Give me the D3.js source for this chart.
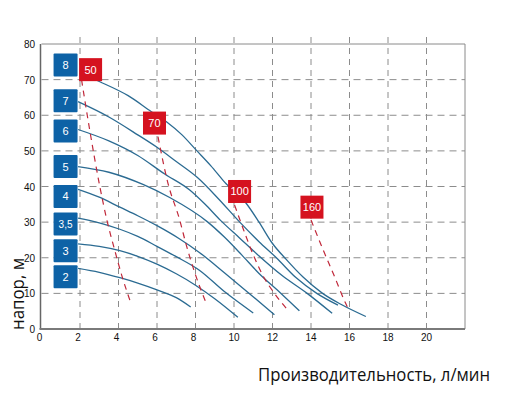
<!DOCTYPE html>
<html>
<head>
  <meta charset="utf-8">
  <script src="https://d3js.org/d3.v7.min.js"></script>
  <style>
    body { margin: 0; background: #fff; }
    .tick-label { font-family: "Liberation Sans", Arial, sans-serif; font-size: 10px; fill: #111; }
    .box-label { font-family: "Liberation Sans", Arial, sans-serif; font-size: 11px; fill: #fff; text-anchor: middle; }
    .axis-title { font-family: "Open Sans", "Noto Sans", sans-serif; fill: #111; }
  </style>
</head>
<body>
  <svg class="chart" width="525" height="393"></svg>
  <script>
    // Pump curves: [flow l/min, head m]
    const PUMPS = ["2", "3", "3,5", "4", "5", "6", "7", "8"];
    const CURVE_2   = [[1.9,17.0],[3.0,15.9],[4.07,14.4],[5.0,12.9],[6.0,11.0],[7.0,8.8],[7.75,6.2]];
    const CURVE_3   = [[1.9,23.9],[3.0,23.2],[4.07,22.0],[5.0,20.4],[6.0,18.2],[7.0,15.5],[8.0,12.3],[9.0,8.5],[10.2,3.3]];
    const CURVE_3_5 = [[1.9,31.1],[3.0,29.8],[4.07,28.0],[5.0,26.0],[6.0,23.2],[7.0,20.3],[8.2,16.5],[9.5,10.5],[11.0,4.5]];
    const CURVE_4   = [[1.9,39.2],[3.0,37.0],[4.07,34.2],[5.0,31.8],[6.0,29.0],[7.2,25.2],[8.2,21.5],[9.5,15.8],[10.9,9.5],[12.1,4.0]];
    const CURVE_5   = [[1.9,45.6],[3.5,44.0],[5.3,40.5],[6.66,36.9],[8.64,30.0],[9.5,25.8],[10.4,20.8],[11.3,15.6],[12.4,10.2],[13.4,5.1]];
    const CURVE_6   = [[1.9,56.0],[3.5,52.8],[5.0,48.7],[6.4,43.5],[7.7,39.0],[8.5,35.0],[9.3,30.5],[10.3,25.5],[11.2,21.0],[12.5,15.0],[13.8,10.0],[15.1,4.4]];
    const CURVE_7   = [[1.9,63.8],[3.5,59.5],[5.0,54.5],[6.0,51.0],[7.0,47.0],[8.1,42.5],[9.2,36.5],[10.3,30.0],[11.3,24.5],[12.2,20.0],[13.2,14.5],[14.3,10.0],[15.4,6.7]];
    const CURVE_8   = [[2.0,71.8],[3.03,69.4],[4.5,65.5],[5.71,61.0],[6.49,58.2],[7.3,54.5],[8.04,50.2],[8.8,45.8],[9.5,41.3],[10.63,35.3],[11.3,30.0],[12.0,24.0],[12.7,19.6],[13.6,14.5],[14.6,10.0],[15.6,6.8],[16.85,3.5]];
    const PUMP_LABEL_Q = [1.25, 1.25, 1.25, 1.25, 1.25, 1.25, 1.25, 1.25];
    const PUMP_LABEL_H = [14.7, 22.0, 29.5, 37.2, 45.6, 55.6, 64.1, 74.1];

    // Dashed lines with their labels
    const EFF_NAMES = ["50", "70", "100", "160"];
    const EFF_50  = [[2.08,70],[2.5,56],[3.03,40],[3.4,30.5],[3.8,22.2],[4.2,14.5],[4.59,8.1]];
    const EFF_70  = [[6.05,54],[6.57,40.9],[7.18,30.6],[7.52,23.6],[8.0,15.2],[8.56,7.2]];
    const EFF_100 = [[10.03,34.8],[10.5,27.8],[10.97,21.2],[11.5,15.0],[12.1,10.0],[12.85,5.0]];
    const EFF_160 = [[14.0,30.6],[14.6,22.6],[15.2,15.0],[15.8,7.2],[16.0,5.0]];
    const EFF_LABEL_Q = [2.55, 5.87, 10.29, 14.05];
    const EFF_LABEL_H = [72.8, 57.8, 38.6, 34.2];

    const X_TICKS = [0, 2, 4, 6, 8, 10, 12, 14, 16, 18, 20];
    const Y_TICKS = [0, 10, 20, 30, 40, 50, 60, 70, 80];
    const X_LABEL = "Производительность, л/мин";
    const Y_LABEL = "напор, м";

    const COLOR_CURVE = "#2b6b92";
    const COLOR_BLUE  = "#0d62a6";
    const COLOR_RED   = "#d5121f";
    const COLOR_DASH  = "#c0283a";
    const COLOR_GRID  = "#8c8c8c";

    const curves = [CURVE_2, CURVE_3, CURVE_3_5, CURVE_4, CURVE_5, CURVE_6, CURVE_7, CURVE_8];
    const effLines = [EFF_50, EFF_70, EFF_100, EFF_160];

    const svg = d3.select(".chart");
    const xScale = d3.scaleLinear().domain([0, 22]).range([41.5, 465]);
    const yScale = d3.scaleLinear().domain([0, 80]).range([329, 44]);

    // grid
    svg.append("g").selectAll("line").data(X_TICKS.filter(d => d > 0)).enter().append("line")
      .attr("x1", d => xScale(d)).attr("x2", d => xScale(d))
      .attr("y1", yScale(0)).attr("y2", yScale(82))
      .attr("stroke", COLOR_GRID).attr("stroke-width", 1).attr("stroke-dasharray", "6,5");
    svg.append("g").selectAll("line").data(Y_TICKS.filter(d => d > 0 && d < 80)).enter().append("line")
      .attr("x1", xScale(0)).attr("x2", xScale(22))
      .attr("y1", d => yScale(d)).attr("y2", d => yScale(d))
      .attr("stroke", COLOR_GRID).attr("stroke-width", 1).attr("stroke-dasharray", "7,5");

    // frame
    svg.append("line").attr("x1", xScale(0)).attr("x2", xScale(22)).attr("y1", yScale(80)).attr("y2", yScale(80))
      .attr("stroke", "#8a8a8a");
    svg.append("line").attr("x1", xScale(22)).attr("x2", xScale(22)).attr("y1", yScale(80)).attr("y2", yScale(0))
      .attr("stroke", "#8a8a8a");
    svg.append("line").attr("x1", xScale(0) - 1).attr("x2", xScale(0) - 1).attr("y1", yScale(80)).attr("y2", yScale(0))
      .attr("stroke", "#666").attr("stroke-width", 1.5);
    svg.append("line").attr("x1", xScale(0) - 2).attr("x2", xScale(22)).attr("y1", yScale(0)).attr("y2", yScale(0))
      .attr("stroke", "#7a7a7a").attr("stroke-width", 2);

    // tick labels
    svg.append("g").selectAll("text").data(Y_TICKS).enter().append("text")
      .attr("class", "tick-label")
      .attr("x", 35).attr("y", d => yScale(d) + 4)
      .attr("text-anchor", "end")
      .text(d => d);
    svg.append("g").selectAll("text").data(X_TICKS).enter().append("text")
      .attr("class", "tick-label")
      .attr("x", d => xScale(d) + (d < 10 ? -2 : 0)).attr("y", 341)
      .attr("text-anchor", "middle")
      .text(d => d);

    // axis titles
    svg.append("text").attr("class", "axis-title")
      .attr("x", 258).attr("y", 381)
      .style("font-size", "18px")
      .attr("textLength", 232).attr("lengthAdjust", "spacingAndGlyphs")
      .text(X_LABEL);
    svg.append("text").attr("class", "axis-title")
      .attr("transform", "translate(24,294) rotate(-90)")
      .attr("text-anchor", "middle")
      .style("font-size", "19px")
      .attr("textLength", 72).attr("lengthAdjust", "spacingAndGlyphs")
      .text(Y_LABEL);

    const line = d3.line()
      .x(d => xScale(d[0])).y(d => yScale(d[1]))
      .curve(d3.curveMonotoneX);

    // pump curves
    svg.append("g").selectAll("path").data(curves).enter().append("path")
      .attr("d", line)
      .attr("fill", "none").attr("stroke", COLOR_CURVE).attr("stroke-width", 1.3);

    // dashed lines
    svg.append("g").selectAll("path").data(effLines).enter().append("path")
      .attr("d", line)
      .attr("fill", "none").attr("stroke", COLOR_DASH).attr("stroke-width", 1.2)
      .attr("stroke-dasharray", "6,5");

    // pump labels (blue boxes)
    const pumpBoxes = svg.append("g").selectAll("g").data(PUMPS).enter().append("g")
      .attr("transform", (d, i) => `translate(${xScale(PUMP_LABEL_Q[i])}, ${yScale(PUMP_LABEL_H[i])})`);
    pumpBoxes.append("rect")
      .attr("x", -12).attr("y", -11.5).attr("width", 24).attr("height", 23).attr("rx", 1)
      .attr("fill", COLOR_BLUE);
    pumpBoxes.append("text").attr("class", "box-label")
      .attr("y", 4)
      .style("font-size", d => d.length > 1 ? "10px" : "11px")
      .text(d => d);

    // dashed line labels (red boxes)
    const effBoxes = svg.append("g").selectAll("g").data(EFF_NAMES).enter().append("g")
      .attr("transform", (d, i) => `translate(${xScale(EFF_LABEL_Q[i])}, ${yScale(EFF_LABEL_H[i])})`);
    effBoxes.append("rect")
      .attr("x", -11.5).attr("y", -11.5).attr("width", 23).attr("height", 23)
      .attr("fill", COLOR_RED);
    effBoxes.append("text").attr("class", "box-label")
      .attr("y", 4)
      .text(d => d);
  </script>
</body>
</html>
